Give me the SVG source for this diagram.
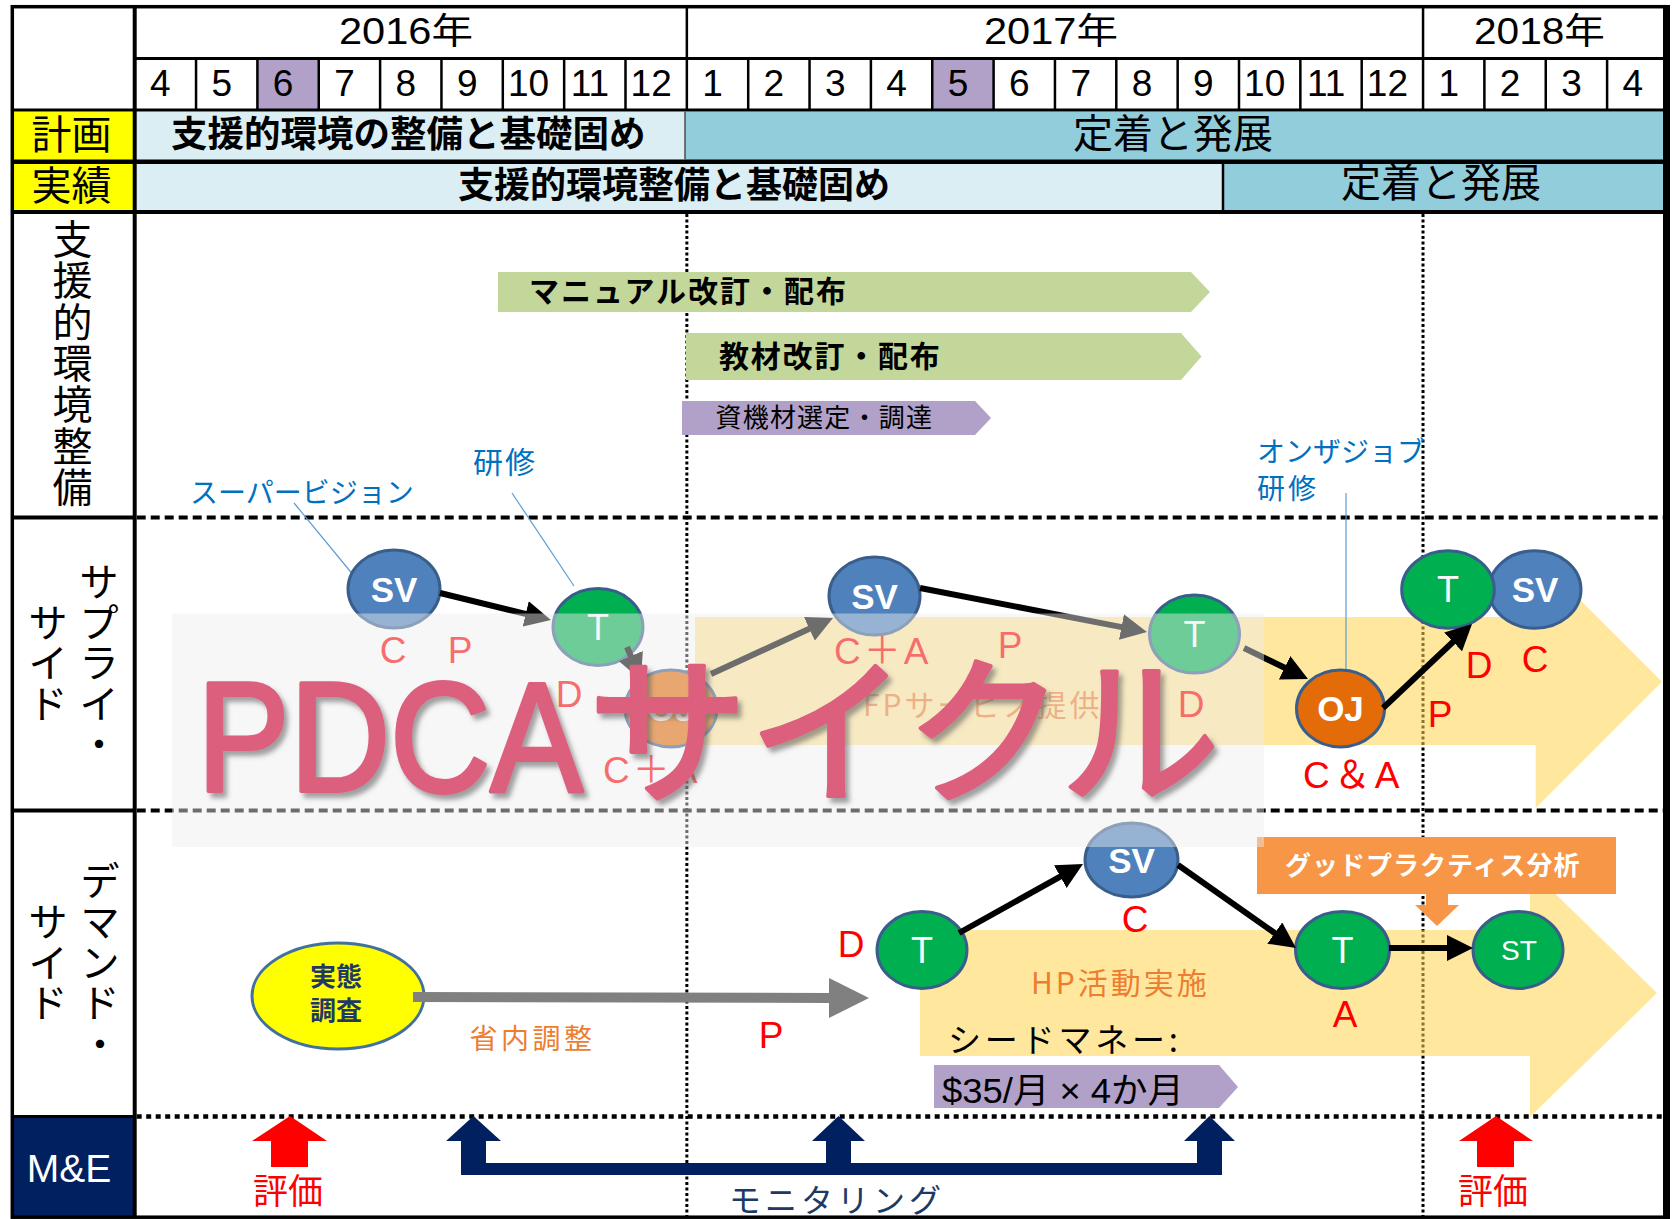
<svg xmlns="http://www.w3.org/2000/svg" width="1675" height="1219" viewBox="0 0 1675 1219">
<defs>
<style>
.jp{font-family:"Noto Sans CJK JP","Noto Sans CJK SC",sans-serif}
.lat{font-family:"Liberation Sans","Noto Sans CJK JP",Arial,sans-serif}
.mon{font-family:"Liberation Sans",Arial,sans-serif;font-size:37px;text-anchor:middle;fill:#000}
.yr{font-family:"Liberation Sans","Noto Sans CJK JP",sans-serif;font-size:36px;fill:#000}
.red{font-family:"Liberation Sans","Noto Sans CJK JP",sans-serif;font-size:37px;fill:#FF0000}
.mid{text-anchor:middle}
.blue{font-family:"Noto Sans CJK JP",sans-serif;fill:#0070C0}
.lead{stroke:#5B9BD5;stroke-width:1.2;fill:none}
.sv{fill:#4F81BD;stroke:#3A5E8C;stroke-width:3}
.t{fill:#00B050;stroke:#3A5E8C;stroke-width:3}
.oj{fill:#E36C09;stroke:#3A5E8C;stroke-width:3}
.nl{font-family:"Liberation Sans",Arial,sans-serif;fill:#fff;text-anchor:middle}
.b{font-weight:bold}
.conn{stroke:#000;stroke-width:6;fill:none;marker-end:url(#ah)}
.grid{stroke:#000;stroke-width:2.5;fill:none}
.vlab{font-family:"Noto Sans CJK JP",sans-serif;text-anchor:middle;fill:#000}
.yel{fill:#FFD54F;opacity:0.55}
.orange{fill:#ED7D31}
</style>
<marker id="ah" markerUnits="userSpaceOnUse" markerWidth="26" markerHeight="26" refX="3" refY="13" orient="auto"><path d="M0,0 L26,13 L0,26 z" fill="#000"/></marker>
<marker id="ahg" markerUnits="userSpaceOnUse" markerWidth="40" markerHeight="40" refX="1" refY="20" orient="auto"><path d="M0,0 L40,20 L0,40 z" fill="#808080"/></marker>
<filter id="sh" x="-5%" y="-10%" width="115%" height="130%"><feDropShadow dx="4" dy="5" stdDeviation="2.5" flood-color="#555" flood-opacity="0.55"/></filter>
</defs>

<rect x="0" y="0" width="1675" height="1219" fill="#fff"/>

<!-- header fills -->
<g id="header-fills">
<rect x="257.4" y="58.5" width="61.35" height="51.5" fill="#B1A0C7"/>
<rect x="932.25" y="58.5" width="61.35" height="51.5" fill="#B1A0C7"/>
<rect x="12" y="111.5" width="122.7" height="50.2" fill="#FFFF00"/>
<rect x="12" y="161.7" width="122.7" height="50.3" fill="#FFFF00"/>
<rect x="134.7" y="111.5" width="550.3" height="50.2" fill="#DAEEF3"/>
<rect x="685" y="111.5" width="981" height="50.2" fill="#92CDDC"/>
<rect x="134.7" y="161.7" width="1088.3" height="50.3" fill="#DAEEF3"/>
<rect x="1223" y="161.7" width="443" height="50.3" fill="#92CDDC"/>
<rect x="12" y="1116.5" width="122.7" height="100.5" fill="#002060"/>
</g>

<!-- vertical year boundaries (dotted) -->
<g id="year-guides" stroke="#000" stroke-width="3" stroke-dasharray="3 2.5" fill="none">
<line x1="686.85" y1="214" x2="686.85" y2="1216"/>
<line x1="1423" y1="214" x2="1423" y2="1216"/>
</g>

<!-- section separators in content -->
<g id="separators" fill="none" stroke="#000">
<line x1="136.7" y1="517.5" x2="1663" y2="517.5" stroke-width="4" stroke-dasharray="9 5"/>
<line x1="136.7" y1="810.5" x2="1663" y2="810.5" stroke-width="4" stroke-dasharray="9 5"/>
<line x1="136.7" y1="1116.5" x2="1663" y2="1116.5" stroke-width="4.5" stroke-dasharray="5 4.5"/>
</g>

<!-- grid -->
<g id="grid" class="grid">
<line x1="134.7" y1="58.5" x2="1666" y2="58.5" stroke-width="3"/>
<line x1="686.85" y1="6.7" x2="686.85" y2="110"/>
<line x1="1423.05" y1="6.7" x2="1423.05" y2="110"/>
<path d="M196.05,58.5V110 M257.4,58.5V110 M318.75,58.5V110 M380.1,58.5V110 M441.45,58.5V110 M502.8,58.5V110 M564.15,58.5V110 M625.5,58.5V110 M748.2,58.5V110 M809.55,58.5V110 M870.9,58.5V110 M932.25,58.5V110 M993.6,58.5V110 M1054.95,58.5V110 M1116.3,58.5V110 M1177.65,58.5V110 M1239,58.5V110 M1300.35,58.5V110 M1361.7,58.5V110 M1484.4,58.5V110 M1545.75,58.5V110 M1607.1,58.5V110"/>
<line x1="12" y1="110" x2="1666" y2="110" stroke-width="3"/>
<line x1="12" y1="161.7" x2="1666" y2="161.7" stroke-width="4.5"/>
<line x1="12" y1="212" x2="1666" y2="212" stroke-width="4"/>
<line x1="685" y1="111.5" x2="685" y2="159.5" stroke="#4d4d4d" stroke-width="1.5"/>
<line x1="1223" y1="163" x2="1223" y2="210" stroke-width="2.5"/>
<line x1="12" y1="517.5" x2="134.7" y2="517.5" stroke-width="4"/>
<line x1="12" y1="810.5" x2="134.7" y2="810.5" stroke-width="4"/>
<line x1="12" y1="1116.5" x2="134.7" y2="1116.5" stroke-width="3"/>
<line x1="134.7" y1="6.7" x2="134.7" y2="1217" stroke-width="4"/>
<rect x="12.3" y="6.7" width="1654" height="1210.5" stroke-width="3.5"/>
<rect x="1663" y="5" width="7" height="1214" fill="#000" stroke="none"/>
</g>

<!-- header texts -->
<g id="header-text">
<text class="yr" x="339" y="43.5" textLength="134" lengthAdjust="spacingAndGlyphs">2016年</text>
<text class="yr" x="984" y="43.5" textLength="134" lengthAdjust="spacingAndGlyphs">2017年</text>
<text class="yr" x="1474" y="43.5" textLength="131" lengthAdjust="spacingAndGlyphs">2018年</text>
<text class="mon" y="96"><tspan x="160.4">4</tspan><tspan x="221.8">5</tspan><tspan x="283.1">6</tspan><tspan x="344.5">7</tspan><tspan x="405.8">8</tspan><tspan x="467.2">9</tspan><tspan x="528.5">10</tspan><tspan x="589.9">11</tspan><tspan x="651.2">12</tspan><tspan x="712.6">1</tspan><tspan x="773.9">2</tspan><tspan x="835.3">3</tspan><tspan x="896.6">4</tspan><tspan x="958">5</tspan><tspan x="1019.3">6</tspan><tspan x="1080.7">7</tspan><tspan x="1142">8</tspan><tspan x="1203.4">9</tspan><tspan x="1264.7">10</tspan><tspan x="1326.1">11</tspan><tspan x="1387.4">12</tspan><tspan x="1448.8">1</tspan><tspan x="1510.1">2</tspan><tspan x="1571.5">3</tspan><tspan x="1632.8">4</tspan></text>
<text class="jp mid" x="71.5" y="149" font-size="40">計画</text>
<text class="jp mid" x="71.5" y="200" font-size="40">実績</text>
<text class="jp b" x="171" y="147" font-size="36.5">支援的環境の整備と基礎固め</text>
<text class="jp" x="1073" y="148" font-size="40">定着と発展</text>
<text class="jp b" x="458" y="198" font-size="36">支援的環境整備と基礎固め</text>
<text class="jp" x="1341" y="197" font-size="40">定着と発展</text>
</g>

<!-- side labels -->
<g id="side-labels">
<text class="vlab" font-size="40"><tspan x="72.5" y="254">支</tspan><tspan x="72.5" y="295.3">援</tspan><tspan x="72.5" y="336.6">的</tspan><tspan x="72.5" y="377.9">環</tspan><tspan x="72.5" y="419.2">境</tspan><tspan x="72.5" y="460.5">整</tspan><tspan x="72.5" y="501.8">備</tspan></text>
<text class="vlab" font-size="39"><tspan x="99" y="596">サ</tspan><tspan x="99" y="636.5">プ</tspan><tspan x="99" y="677">ラ</tspan><tspan x="99" y="717.5">イ</tspan><tspan x="99" y="758">・</tspan><tspan x="48" y="636.5">サ</tspan><tspan x="48" y="677">イ</tspan><tspan x="48" y="717.5">ド</tspan></text>
<text class="vlab" font-size="39"><tspan x="100" y="895">デ</tspan><tspan x="100" y="936">マ</tspan><tspan x="100" y="977">ン</tspan><tspan x="100" y="1017">ド</tspan><tspan x="100" y="1058">・</tspan><tspan x="48" y="936">サ</tspan><tspan x="48" y="977">イ</tspan><tspan x="48" y="1017">ド</tspan></text>
<text x="69" y="1182" font-family="Liberation Sans, Arial, sans-serif" font-size="39" fill="#fff" text-anchor="middle">M&amp;E</text>
</g>

<!-- support environment bars -->
<g id="bar-manual">
<polygon points="498,272 1191,272 1210,292 1191,312 498,312" fill="#C4D79B"/>
<text class="jp b" x="529" y="302" font-size="30" letter-spacing="2">マニュアル改訂・配布</text>
</g>
<g id="bar-materials">
<polygon points="686,333 1181,333 1201.6,356.5 1181,380 686,380" fill="#C4D79B"/>
<text class="jp b" x="719" y="367" font-size="30" letter-spacing="1.8">教材改訂・配布</text>
</g>
<g id="bar-equipment">
<polygon points="682,401 975,401 991,418 975,435 682,435" fill="#B1A0C7"/>
<text class="jp" x="715.5" y="427" font-size="26" letter-spacing="1.2">資機材選定・調達</text>
</g>

<!-- big yellow arrows -->
<g id="fp-service">
<polygon class="yel" points="695,617 1535.7,617 1535.7,555.4 1662,681.7 1535.7,808 1535.7,745 695,745"/>
<text class="jp orange" x="863" y="716" font-size="30" letter-spacing="3">FPサービス提供</text>
</g>
<g id="hp-activity">
<polygon class="yel" points="920,930 1530,930 1530,869 1657,993 1530,1117 1530,1056 920,1056"/>
<text class="jp orange" x="1031" y="994" font-size="30" letter-spacing="3">HP活動実施</text>
<text class="jp" x="948" y="1052" font-size="33" letter-spacing="3.8" fill="#000">シードマネー:</text>
</g>
<g id="seed-money">
<polygon points="934,1065 1219,1065 1238,1087 1219,1108 934,1108" fill="#B1A0C7"/>
<text class="lat" x="942" y="1103" font-size="35" fill="#000" textLength="242" lengthAdjust="spacingAndGlyphs">$35/月 × 4か月</text>
</g>

<!-- blue callouts -->
<g id="callouts">
<text class="blue" x="190" y="503" font-size="28">スーパービジョン</text>
<line class="lead" x1="294" y1="503" x2="359" y2="582"/>
<text class="blue" x="473" y="473" font-size="30" letter-spacing="2">研修</text>
<line class="lead" x1="512" y1="493" x2="574" y2="586"/>
<text class="blue" x="1257" y="462" font-size="28">オンザジョブ</text>
<text class="blue" x="1257" y="499" font-size="28" letter-spacing="3">研修</text>
<line class="lead" x1="1346" y1="493" x2="1346" y2="685"/>
</g>

<!-- nodes: supply side -->
<g id="node-sv1"><ellipse class="sv" cx="394" cy="589" rx="46" ry="39"/><text class="nl b" x="394" y="601.5" font-size="35">SV</text></g>
<g id="node-t1"><ellipse class="t" cx="598" cy="627" rx="45" ry="38.5"/><text class="nl" x="598" y="639.5" font-size="36">T</text></g>
<g id="node-oj1"><ellipse class="oj" cx="671" cy="708.5" rx="46" ry="38.5"/><text class="nl b" x="671" y="721" font-size="35">OJ</text></g>
<g id="node-sv2"><ellipse class="sv" cx="874.5" cy="596" rx="45.5" ry="39"/><text class="nl b" x="874.5" y="608.5" font-size="35">SV</text></g>
<g id="node-t2"><ellipse class="t" cx="1194.5" cy="634" rx="45" ry="39"/><text class="nl" x="1194.5" y="646.5" font-size="36">T</text></g>
<g id="node-oj2"><ellipse class="oj" cx="1340.5" cy="708.5" rx="44" ry="38.5"/><text class="nl b" x="1340.5" y="721" font-size="35">OJ</text></g>
<g id="node-sv3"><ellipse class="sv" cx="1535" cy="589.5" rx="46" ry="38.8"/><text class="nl b" x="1535" y="602" font-size="35">SV</text></g>
<g id="node-t3"><ellipse class="t" cx="1448" cy="589.5" rx="46.3" ry="38.8"/><text class="nl" x="1448" y="602" font-size="36">T</text></g>

<!-- nodes: demand side -->
<g id="node-survey"><ellipse cx="338" cy="996" rx="86" ry="53" fill="#FFFF00" stroke="#41719C" stroke-width="3"/><text class="jp b mid" x="336" y="986" font-size="26" fill="#1F3864">実態</text><text class="jp b mid" x="336" y="1020" font-size="26" fill="#1F3864">調査</text></g>
<g id="node-t4"><ellipse class="t" cx="922" cy="950" rx="45" ry="38.5"/><text class="nl" x="922" y="962.5" font-size="36">T</text></g>
<g id="node-sv4"><ellipse class="sv" cx="1131.5" cy="860" rx="46.5" ry="37"/><text class="nl b" x="1131.5" y="872.5" font-size="35">SV</text></g>
<g id="node-t5"><ellipse class="t" cx="1342.5" cy="950" rx="47" ry="38.5"/><text class="nl" x="1342.5" y="962.5" font-size="36">T</text></g>
<g id="node-st"><ellipse class="t" cx="1518" cy="950" rx="45" ry="38.5"/><text class="nl" x="1519" y="960" font-size="28">ST</text></g>

<!-- connectors -->
<g id="connectors">
<line class="conn" x1="440" y1="593" x2="528.6" y2="614.6"/>
<line class="conn" x1="627" y1="647" x2="632" y2="658.8"/>
<line class="conn" x1="711" y1="674" x2="812.1" y2="627.6"/>
<line class="conn" x1="920" y1="588" x2="1124.4" y2="627.6"/>
<line class="conn" x1="1244" y1="648" x2="1287.3" y2="669"/>
<line class="conn" x1="1383" y1="708" x2="1455.3" y2="639.8"/>
<line class="conn" x1="959" y1="933" x2="1062.9" y2="875.2"/>
<line class="conn" x1="1178" y1="865" x2="1277.2" y2="934.8"/>
<line class="conn" x1="1389" y1="948" x2="1450" y2="948"/>
<line x1="413" y1="997" x2="830" y2="998" stroke="#808080" stroke-width="10" marker-end="url(#ahg)"/>
</g>

<!-- PDCA letters -->
<g id="pdca-letters">
<text class="red mid" x="393" y="663">C</text>
<text class="red mid" x="460" y="663">P</text>
<text class="red mid" x="569" y="707">D</text>
<text class="red" x="603" y="783" letter-spacing="3">C＋A</text>
<text class="red" x="834" y="664" letter-spacing="3">C＋A</text>
<text class="red mid" x="1010" y="658">P</text>
<text class="red mid" x="1191" y="717">D</text>
<text class="red" x="1303" y="788" letter-spacing="4">C＆A</text>
<text class="red mid" x="1440" y="727">P</text>
<text class="red mid" x="1479" y="678">D</text>
<text class="red mid" x="1535" y="672">C</text>
<text class="red mid" x="771" y="1048">P</text>
<text class="red mid" x="851" y="957">D</text>
<text class="red mid" x="1135" y="932">C</text>
<text class="red mid" x="1345" y="1027">A</text>
</g>

<!-- internal coordination -->
<text class="jp orange" x="469.5" y="1049" font-size="28" letter-spacing="3.5">省内調整</text>

<!-- good practice analysis -->
<g id="good-practice">
<rect x="1257" y="837" width="359" height="57" fill="#F79646"/>
<text class="jp b" x="1285" y="875" font-size="26" letter-spacing="1" fill="#fff">グッドプラクティス分析</text>
<polygon points="1426,893 1448,893 1448,905 1459,905 1437,926 1415,905 1426,905" fill="#F79646"/>
</g>

<!-- translucent overlay -->
<rect id="overlay" x="172" y="613.5" width="1092" height="233.5" fill="#EEEEEE" opacity="0.46"/>

<!-- title -->
<g id="pdca-title" filter="url(#sh)">
<text y="791" fill="#DC607E" stroke="#DC607E" stroke-width="4" stroke-linejoin="round"><tspan class="lat" x="197" font-size="156" textLength="386" lengthAdjust="spacingAndGlyphs">PDCA</tspan><tspan class="jp" x="588" font-size="160">サイクル</tspan></text>
</g>

<!-- M&E -->
<g id="me-evaluation">
<polygon points="290,1116 327,1141 308,1141 308,1167 271,1167 271,1141 252,1141" fill="#FF0000"/>
<text class="jp" x="253" y="1204" font-size="35" fill="#FF0000">評価</text>
<polygon points="1496,1116 1533,1141 1514,1141 1514,1167 1477,1167 1477,1141 1459,1141" fill="#FF0000"/>
<text class="jp" x="1458" y="1204" font-size="35" fill="#FF0000">評価</text>
</g>
<g id="me-monitoring">
<path d="M473.5,1116 L501,1141 L486,1141 L486,1163 L826,1163 L826,1141 L812,1141 L838.5,1116 L865,1141 L851,1141 L851,1163 L1197,1163 L1197,1141 L1184,1141 L1209.5,1116 L1235,1141 L1222,1141 L1222,1175 L461,1175 L461,1141 L446,1141 Z" fill="#002060"/>
<text class="jp" x="729" y="1212" font-size="32" letter-spacing="4" fill="#203864">モニタリング</text>
</g>
</svg>
